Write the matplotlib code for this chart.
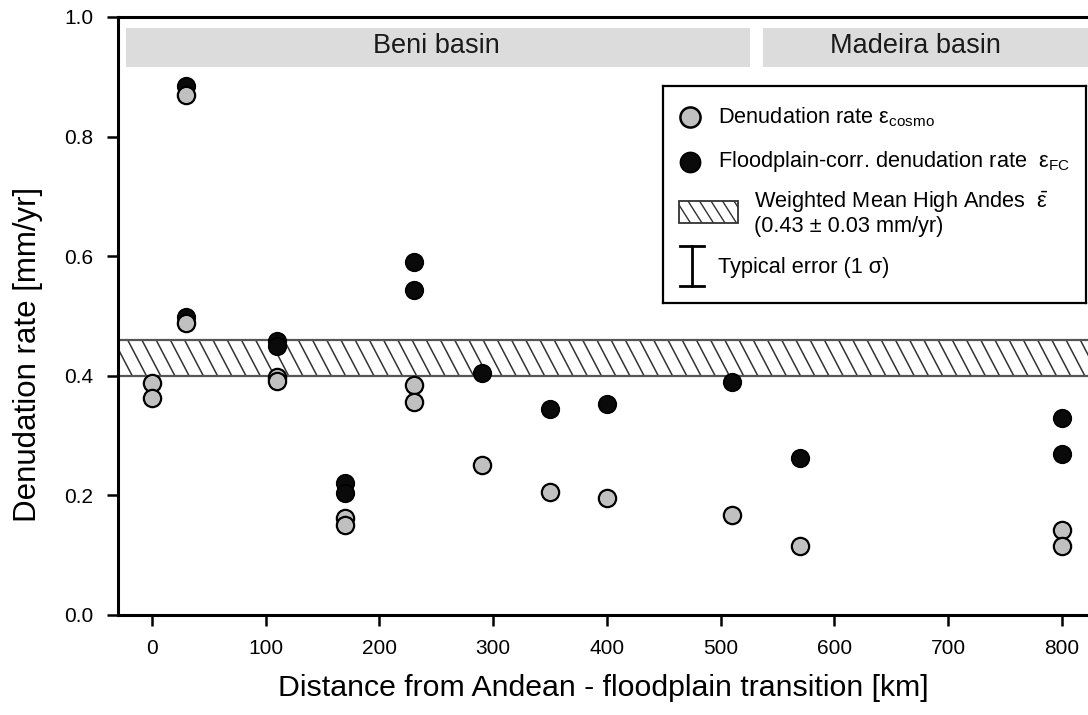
import numpy as np
import matplotlib
matplotlib.use("Agg")
import matplotlib.pyplot as plt
from matplotlib.patches import Rectangle
from matplotlib.collections import LineCollection

plt.rcParams["font.family"] = ["Liberation Sans", "DejaVu Sans"]
plt.rcParams["mathtext.fontset"] = "custom"
plt.rcParams["mathtext.rm"] = "Liberation Sans"
plt.rcParams["mathtext.it"] = "Liberation Sans:italic"

# distance from Andean - floodplain transition [km] and denudation rates [mm/yr]
dist_cosmo = [0, 0, 30, 30, 110, 110, 170, 170, 230, 230, 290, 350, 400, 510, 570, 800, 800]
eps_cosmo = [0.388, 0.363, 0.870, 0.488, 0.398, 0.392, 0.162, 0.151, 0.385, 0.356,
             0.251, 0.206, 0.195, 0.167, 0.116, 0.142, 0.116]

dist_fc = [30, 30, 110, 110, 170, 170, 230, 230, 290, 350, 400, 510, 570, 800, 800]
eps_fc = [0.885, 0.499, 0.458, 0.450, 0.220, 0.204, 0.590, 0.544, 0.405, 0.344,
          0.353, 0.389, 0.263, 0.329, 0.270]

andes_mean = 0.43
andes_err = 0.03

basins = ["Beni basin", "Madeira basin"]
basin_extent = [(-23, 526), (537, 830)]
basin_label_x = [250, 671]

xticks = [0, 100, 200, 300, 400, 500, 600, 700, 800]
yticks = [0.0, 0.2, 0.4, 0.6, 0.8, 1.0]


def hatch(ax, x0, x1, y_top, y_bot, step, run, lw=1.0, color="#333333"):
    """diagonal '\\' hatch drawn as clipped lines"""
    starts = np.arange(x0 - run, x1 + step, step)
    segs = [[(s, y_top), (s + run, y_bot)] for s in starts]
    lc = LineCollection(segs, colors=color, linewidths=lw, zorder=1)
    clip = Rectangle((x0, min(y_top, y_bot)), x1 - x0, abs(y_bot - y_top),
                     transform=ax.transData, facecolor="none", edgecolor="none")
    ax.add_patch(clip)
    ax.add_collection(lc)
    lc.set_clip_path(clip)


W, H = 1088, 715
fig = plt.figure(figsize=(W / 100, H / 100), dpi=100)
ax = fig.add_axes([118 / W, 100 / H, 970 / W, 598 / H])

xmin, xmax = -29.9, 822.9
ax.set_xlim(xmin, xmax)
ax.set_ylim(0, 1.0)

# high Andes weighted mean band
lo, hi = andes_mean - andes_err, andes_mean + andes_err
hatch(ax, xmin, xmax, hi, lo, 12.5, 16.5, lw=1.1)
ax.axhline(hi, color="#555555", lw=1.6, zorder=2)
ax.axhline(lo, color="#555555", lw=1.6, zorder=2)

# basin headers
for name, (b0, b1), lx in zip(basins, basin_extent, basin_label_x):
    ax.add_patch(Rectangle((b0, 0.917), b1 - b0, 0.065, facecolor="#dcdcdc",
                           edgecolor="none", zorder=1))
    ax.text(lx, 0.951, name, ha="center", va="center", fontsize=19.5,
            color="#1a1a1a", zorder=3)

ax.scatter(dist_fc, eps_fc, s=160, facecolor="#0a0a0a", edgecolor="black",
           linewidth=1.2, zorder=4, clip_on=False)
ax.scatter(dist_cosmo, eps_cosmo, s=155, facecolor="#c0c0c0", edgecolor="black",
           linewidth=1.6, zorder=5, clip_on=False)

ax.set_xticks(xticks)
ax.set_yticks(yticks)
ax.set_yticklabels([f"{v:.1f}" for v in yticks])
ax.tick_params(direction="out", length=8, width=1.8, labelsize=15, colors="black")
ax.tick_params(axis="x", pad=9)
ax.tick_params(axis="y", pad=10)
ax.spines["right"].set_visible(False)
for side in ("left", "bottom", "top"):
    ax.spines[side].set_linewidth(2.2)
ax.set_xlabel("Distance from Andean - floodplain transition [km]", fontsize=21.8,
              labelpad=12)
ax.set_ylabel("Denudation rate [mm/yr]", fontsize=22.5, va="center")
ax.yaxis.set_label_coords((28 - 118) / 970, 0.435)

# legend box (pixel coordinates)
L0, L1, T0, B0 = 663, 1086, 86, 303
lg = fig.add_axes([L0 / W, 1 - B0 / H, (L1 - L0) / W, (B0 - T0) / H])
lg.set_xlim(L0, L1)
lg.set_ylim(B0, T0)
lg.set_xticks([])
lg.set_yticks([])
for sp in lg.spines.values():
    sp.set_linewidth(1.6)

lg.scatter([690], [117], s=210, facecolor="#c0c0c0", edgecolor="black", linewidth=1.8)
lg.scatter([690], [162], s=210, facecolor="#0a0a0a", edgecolor="black", linewidth=1.2)
lg.text(718, 117, r"Denudation rate $\mathrm{ε}_{\mathrm{cosmo}}$", fontsize=15.7,
        va="center", ha="left")
lg.text(718, 162, r"Floodplain-corr. denudation rate  $\mathrm{ε}_{\mathrm{FC}}$",
        fontsize=15.7, va="center", ha="left")

hatch(lg, 679, 738, 201, 223, 11.5, 14, lw=1.0)
lg.add_patch(Rectangle((679, 201), 59, 22, facecolor="none", edgecolor="#333333", lw=1.3))
lg.text(754, 202, r"Weighted Mean High Andes  $\bar{\mathrm{ε}}$", fontsize=15.7,
        va="center", ha="left")
lg.text(754, 227, "(0.43 ± 0.03 mm/yr)", fontsize=15.7, va="center", ha="left")

lg.plot([692, 692], [246, 286], color="black", lw=2)
lg.plot([680, 704], [246, 246], color="black", lw=2)
lg.plot([680, 704], [286, 286], color="black", lw=2)
lg.text(718, 268, "Typical error (1 σ)", fontsize=15.7, va="center", ha="left")

fig.savefig("out.png", dpi=100)
